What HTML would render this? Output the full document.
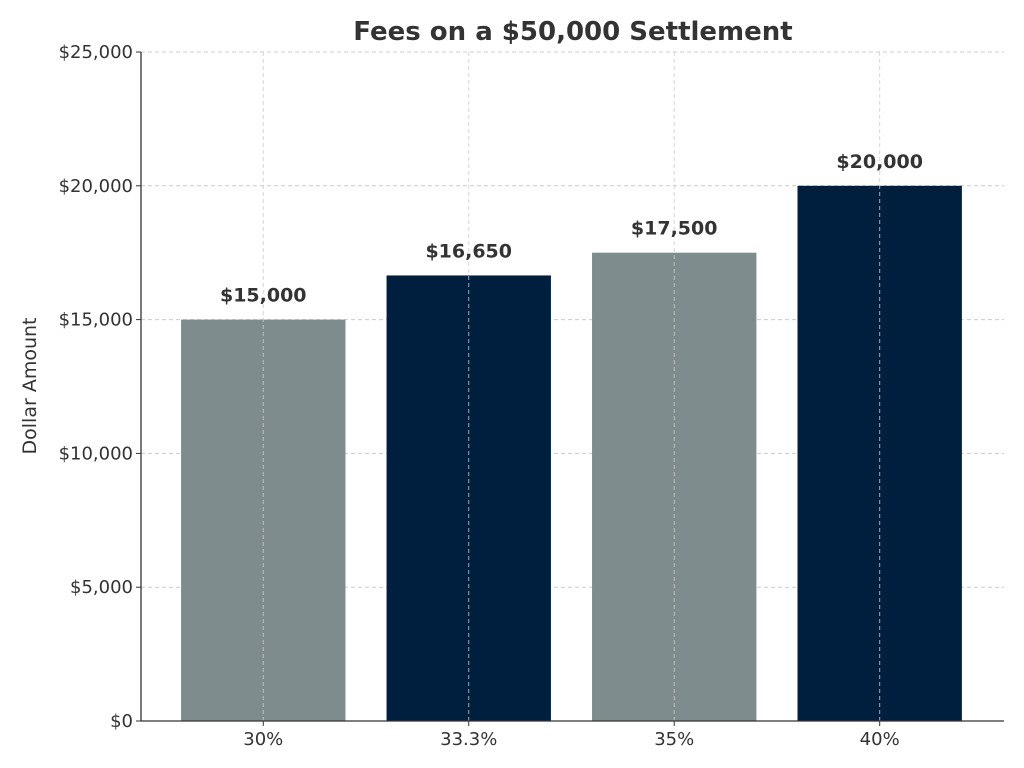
<!DOCTYPE html>
<html><head><meta charset="utf-8"><style>
body{margin:0;background:#fff;}
svg{display:block;font-family:"DejaVu Sans","Liberation Sans",sans-serif;}
</style></head><body>
<svg id="chart" width="1024" height="768">
<text x="573" y="40" text-anchor="middle" font-size="26" font-weight="bold" fill="#333">Fees on a $50,000 Settlement</text>
<text transform="translate(36,386) rotate(-90)" text-anchor="middle" font-size="19" fill="#333">Dollar Amount</text>
<g id="grid"></g><g id="bars"></g><g id="labels"></g><g id="ticks"></g>
<line x1="141" y1="52" x2="141" y2="721" stroke="#333" stroke-width="1.3"/>
<line x1="141" y1="721" x2="1004" y2="721" stroke="#333" stroke-width="1.3"/>
</svg>
<script>
const categories=["30%","33.3%","35%","40%"];
const values=[15000,16650,17500,20000];
const valueLabels=["$15,000","$16,650","$17,500","$20,000"];
const yTicks=[0,5000,10000,15000,20000,25000];
const yTickLabels=["$0","$5,000","$10,000","$15,000","$20,000","$25,000"];
const colors=["#7f8c8d","#001f3f","#7f8c8d","#001f3f"];
const NS="http://www.w3.org/2000/svg";
const x0=141,x1=1004,yTop=52,yBot=721;
const xs=i=>x0+(i+0.595)*(x1-x0)/4.2;
const ys=v=>yBot-v/25000*(yBot-yTop);
const bw=0.8*(x1-x0)/4.2;
function mk(tag,attrs,parent){const e=document.createElementNS(NS,tag);for(const k in attrs)e.setAttribute(k,attrs[k]);document.getElementById(parent).appendChild(e);return e;}
yTicks.forEach((t,i)=>{
  const g=mk("line",{x1:x0,x2:x1,y1:ys(t),y2:ys(t),stroke:"#ccc","stroke-dasharray":"4,3","stroke-width":1},"grid");
  
  
  const tk=mk("line",{x1:x0-5,x2:x0,y1:ys(t),y2:ys(t),stroke:"#333"},"ticks");
  
  
  const tl=mk("text",{x:x0-8,y:ys(t)+6,"text-anchor":"end","font-size":"18",fill:"#333"},"ticks");
  tl.textContent=yTickLabels[i];
  
  
});
categories.forEach((c,i)=>{
  const cx=xs(i);
  const b=mk("rect",{x:cx-bw/2,y:ys(values[i]),width:bw,height:yBot-ys(values[i]),fill:colors[i]},"bars");
  
  
  const g=mk("line",{x1:cx,x2:cx,y1:yTop,y2:yBot,stroke:"#ccc","stroke-dasharray":"4,3","stroke-width":1,opacity:0.8},"labels");
  
  
  const vl=mk("text",{x:cx,y:ys(values[i])-18,"text-anchor":"middle","font-size":"19","font-weight":"bold",fill:"#333"},"labels");
  vl.textContent=valueLabels[i];
  
  
  const tk=mk("line",{x1:cx,x2:cx,y1:yBot,y2:yBot+5,stroke:"#333"},"ticks");
  
  
  const tl=mk("text",{x:cx,y:yBot+24,"text-anchor":"middle","font-size":"18",fill:"#333"},"ticks");
  tl.textContent=c;
  
  
});
</script>
</body></html>
